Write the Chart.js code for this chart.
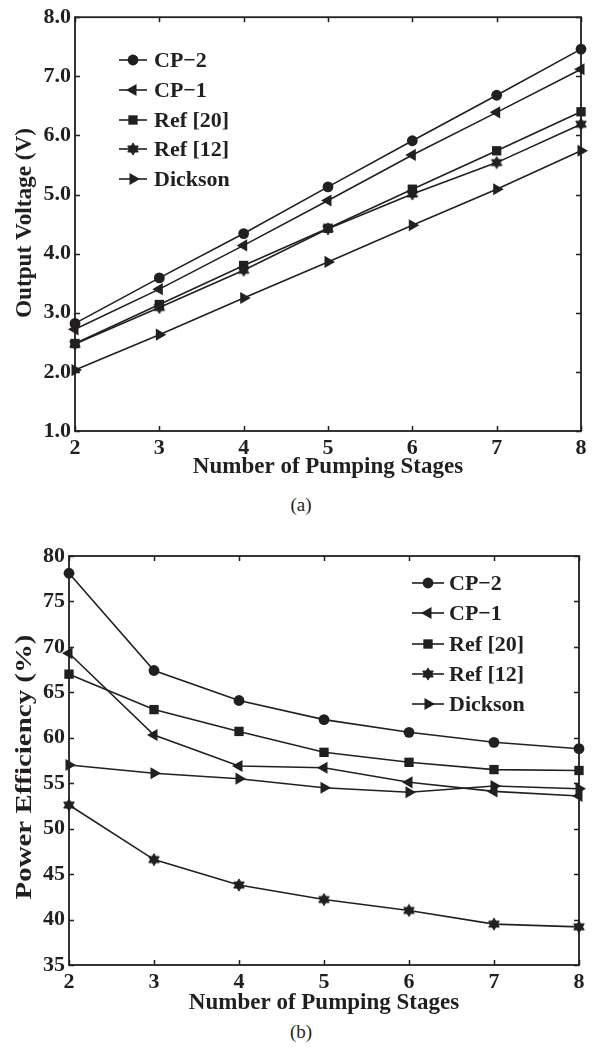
<!DOCTYPE html>
<html><head><meta charset="utf-8">
<script src="https://cdn.jsdelivr.net/npm/chart.js@4.4.0/dist/chart.umd.min.js"></script>
<style>
html,body{margin:0;padding:0;background:#fff;width:595px;height:1049px;overflow:hidden;}
#cA{position:absolute;left:0;top:0;}
#cB{position:absolute;left:0;top:520px;}
.cap{position:absolute;font-family:"Liberation Serif","Times New Roman",serif;font-size:19px;line-height:22px;color:#231f20;width:100px;text-align:center;}
</style></head>
<body>
<canvas id="cA" width="595" height="481"></canvas>
<canvas id="cB" width="595" height="497"></canvas>
<div class="cap" style="left:251px;top:494px;">(a)</div>
<div class="cap" style="left:251px;top:1021px;">(b)</div>
<script>
// ---- data ----
const stages = [2, 3, 4, 5, 6, 7, 8];
const seriesNames = ['CP\u22122', 'CP\u22121', 'Ref [20]', 'Ref [12]', 'Dickson'];
const voltCP2     = [2.82, 3.59, 4.34, 5.13, 5.91, 6.68, 7.46];
const voltCP1     = [2.72, 3.40, 4.14, 4.90, 5.67, 6.39, 7.12];
const voltRef20   = [2.48, 3.14, 3.80, 4.43, 5.09, 5.74, 6.40];
const voltRef12   = [2.47, 3.09, 3.72, 4.42, 5.01, 5.54, 6.19];
const voltDickson = [2.03, 2.63, 3.25, 3.86, 4.48, 5.09, 5.74];
const effCP2      = [78.1, 67.4, 64.1, 62.0, 60.6, 59.5, 58.8];
const effCP1      = [69.3, 60.3, 56.9, 56.7, 55.1, 54.1, 53.6];
const effRef20    = [67.0, 63.1, 60.7, 58.4, 57.3, 56.5, 56.4];
const effRef12    = [52.6, 46.6, 43.8, 42.2, 41.0, 39.5, 39.2];
const effDickson  = [57.0, 56.1, 55.5, 54.5, 54.0, 54.7, 54.4];
const voltTickLabels = ['1.0','2.0','3.0','4.0','5.0','6.0','7.0','8.0'];
const effTickLabels  = ['35','40','45','50','55','60','65','70','75','80'];
const xTitle = 'Number of Pumping Stages';
const yTitleA = 'Output Voltage (V)';
const yTitleB = 'Power Efficiency (%)';

const INK = '#231f20';
const SERIF = '"Liberation Serif","Times New Roman",serif';

// filled six-pointed star marker
function makeStar(R){
  const s = 14, c = document.createElement('canvas');
  c.width = s; c.height = s;
  const g = c.getContext('2d'); const cx = s/2, cy = s/2;
  g.fillStyle = INK; g.strokeStyle = INK; g.lineWidth = 0.9; g.lineJoin = 'miter';
  [ -Math.PI/2, Math.PI/2 ].forEach(a0 => {
    g.beginPath();
    for (let k=0;k<3;k++){ const a = a0 + k*2*Math.PI/3; const px = cx+R*Math.cos(a), py = cy+R*Math.sin(a); k?g.lineTo(px,py):g.moveTo(px,py); }
    g.closePath(); g.fill(); g.stroke();
  });
  return c;
}
const starImg = makeStar(6.1);

const markers = [
  {style:'circle', rot:0, r:5.4},
  {style:'triangle', rot:-90, r:7},
  {style:'rect', rot:0, r:6.6},
  {style:starImg, rot:0, r:6},
  {style:'triangle', rot:90, r:7}
];

function makeDatasets(arrs){
  return arrs.map((arr,i)=>({
    label: seriesNames[i],
    data: stages.map((x,j)=>({x:x, y:arr[j]})),
    borderColor: INK, backgroundColor: INK, borderWidth: 1.6,
    pointStyle: markers[i].style, rotation: markers[i].rot,
    pointRadius: markers[i].r, pointHoverRadius: markers[i].r,
    pointBackgroundColor: INK, pointBorderColor: INK, pointBorderWidth: 0,
    tension: 0, fill: false, clip: false
  }));
}

function framePlugin(){
  return { id:'frame', beforeDatasetsDraw(chart){
    const ctx = chart.ctx, a = chart.chartArea, xs = chart.scales.x, ys = chart.scales.y, L = 5;
    ctx.save(); ctx.strokeStyle = INK; ctx.lineWidth = 1.5;
    ctx.beginPath();
    xs.ticks.forEach(t=>{ const p = Math.round(xs.getPixelForValue(t.value))+0.5;
      ctx.moveTo(p,a.bottom); ctx.lineTo(p,a.bottom-L); ctx.moveTo(p,a.top); ctx.lineTo(p,a.top+L); });
    ys.ticks.forEach(t=>{ const p = Math.round(ys.getPixelForValue(t.value))+0.5;
      ctx.moveTo(a.left,p); ctx.lineTo(a.left+L,p); ctx.moveTo(a.right,p); ctx.lineTo(a.right-L,p); });
    ctx.stroke();
    ctx.lineWidth = 1.8;
    ctx.strokeRect(a.left, a.top, a.right-a.left, a.bottom-a.top);
    ctx.restore();
  }};
}

function legendPlugin(cfg){
  return { id:'customLegend', afterDatasetsDraw(chart){
    const ctx = chart.ctx;
    ctx.save();
    chart.data.datasets.forEach((ds,i)=>{
      const y = Math.round(cfg.y0 + i*cfg.dy);
      ctx.strokeStyle = INK; ctx.lineWidth = 1.6;
      ctx.beginPath(); ctx.moveTo(cfg.x0,y); ctx.lineTo(cfg.x1,y); ctx.stroke();
      ctx.fillStyle = INK; ctx.strokeStyle = INK;
      Chart.helpers.drawPoint(ctx, {pointStyle: ds.pointStyle, rotation: ds.rotation, radius: ds.pointRadius, borderWidth:0}, (cfg.x0+cfg.x1)/2, y);
      ctx.font = 'bold 22px ' + SERIF; ctx.textAlign='left'; ctx.textBaseline='middle';
      ctx.fillText(ds.label, cfg.tx, y+1);
    });
    ctx.restore();
  }};
}

function yTitlePlugin(cfg){
  return { id:'yTitle', afterDraw(chart){
    const ctx = chart.ctx; ctx.save();
    ctx.font = 'bold 23px ' + SERIF; ctx.fillStyle = INK;
    ctx.textAlign='center'; ctx.textBaseline='middle';
    const w = ctx.measureText(cfg.text).width;
    const sx = cfg.length / w;
    ctx.translate(cfg.x, cfg.y); ctx.rotate(-Math.PI/2); ctx.scale(sx,1);
    ctx.fillText(cfg.text, 0, 0);
    ctx.restore();
  }};
}

function makeChart(id, arrs, yMin, yMax, yStep, tickLabels, pad, yW, xH, legendCfg, yt){
  return new Chart(document.getElementById(id), {
    type:'line',
    data:{ datasets: makeDatasets(arrs) },
    options:{
      responsive:false, devicePixelRatio:1, animation:false,
      layout:{ padding: pad },
      plugins:{ legend:{display:false}, tooltip:{enabled:false} },
      scales:{
        x:{ type:'linear', min:2, max:8,
            grid:{display:false, drawTicks:false}, border:{display:false},
            ticks:{ stepSize:1, padding:4, color:INK, font:{family:SERIF, size:22, weight:'bold'} },
            title:{ display:true, text:xTitle, color:INK, padding:{top:0,bottom:0}, font:{family:SERIF, size:23, weight:'bold'} },
            afterFit: s => { s.height = xH; } },
        y:{ type:'linear', min:yMin, max:yMax,
            grid:{display:false, drawTicks:false}, border:{display:false},
            ticks:{ stepSize:yStep, padding:4, color:INK, font:{family:SERIF, size:22, weight:'bold'},
                    callback: (v) => { const k = Math.round((v - yMin)/yStep); return tickLabels[k]; } },
            afterFit: s => { s.width = yW; } }
      }
    },
    plugins:[framePlugin(), legendPlugin(legendCfg), yTitlePlugin(yt)]
  });
}

makeChart('cA', [voltCP2, voltCP1, voltRef20, voltRef12, voltDickson], 1, 8, 1, voltTickLabels,
  {top:16, right:14, left:0, bottom:0}, 75, 50,
  {x0:119, x1:147, tx:154, y0:60, dy:29.75},
  {text:yTitleA, x:25, y:223, length:190});

makeChart('cB', [effCP2, effCP1, effRef20, effRef12, effDickson], 35, 80, 5, effTickLabels,
  {top:36, right:16, left:0, bottom:0}, 69, 52,
  {x0:412, x1:444, tx:449, y0:63, dy:30.25},
  {text:yTitleB, x:25, y:247, length:265});
</script>
</body></html>
